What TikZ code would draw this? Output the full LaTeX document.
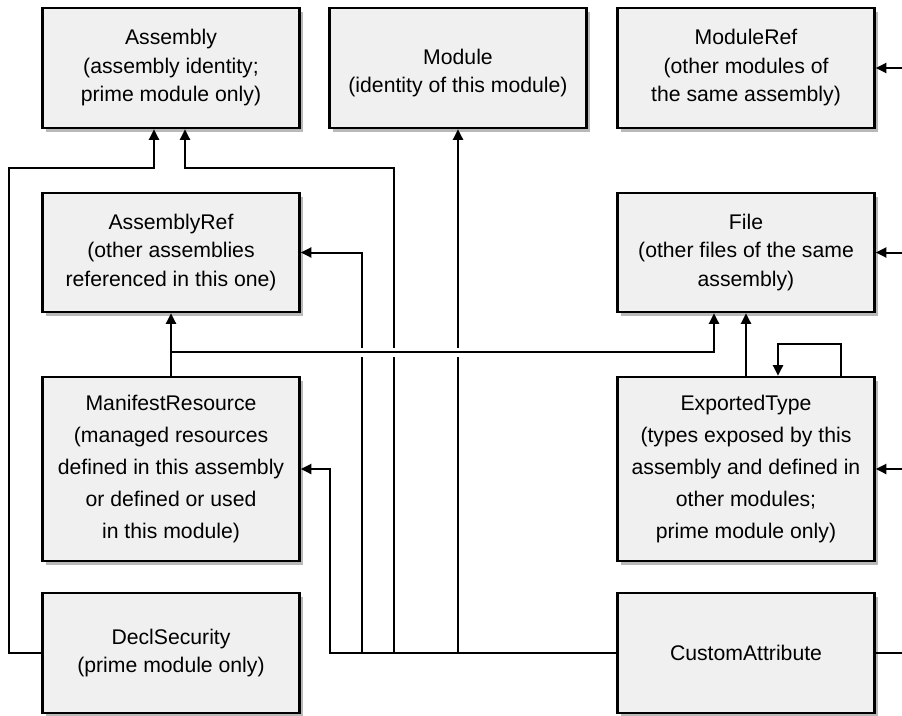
\documentclass[tikz,border=0pt]{standalone}
\usepackage{fontspec}
\setmainfont{Liberation Sans}
\usetikzlibrary{arrows.meta,shadows}

\begin{document}
\begin{tikzpicture}[x=1pt,y=-1pt,
  tbl/.style={draw=black, line width=2.6pt, fill=gray!12, minimum width=257pt,
    align=center, inner sep=0pt,
    font=\fontsize{21.2}{28.5}\selectfont,
    drop shadow={shadow xshift=3.5pt, shadow yshift=-3.5pt, fill=gray!55, opacity=1}},
  tall/.style={font=\fontsize{21.2}{32}\selectfont},
  tbltext/.style={align=center, inner sep=0pt, font=\fontsize{21.2}{28.5}\selectfont},
  link/.style={line width=2pt},
  arr/.style={link, -{Triangle[length=10.5pt,width=10pt]}},
]
\useasboundingbox (0,0) rectangle (902,715);

% metadata tables
\node[tbl, minimum height=120pt] (asm)  at (171,68)  {Assembly\\(assembly identity;\\prime module only)};
\node[tbl, minimum height=120pt] (mod)  at (458,68)  {};
\node[tbltext] (modtxt) at ([yshift=-5pt]mod.center) {Module\\(identity of this module)};
\node[tbl, minimum height=120pt] (mref) at (746,68)  {ModuleRef\\(other modules of\\the same assembly)};
\node[tbl, minimum height=119pt] (aref) at (171,252.5) {AssemblyRef\\(other assemblies\\referenced in this one)};
\node[tbl, minimum height=119pt] (file) at (746,252.5) {File\\(other files of the same\\assembly)};
\node[tbl, tall, minimum height=184pt] (mres) at (171,469) {ManifestResource\\(managed resources\\defined in this assembly\\or defined or used\\in this module)};
\node[tbl, tall, minimum height=184pt] (et)   at (746,469) {ExportedType\\(types exposed by this\\assembly and defined in\\other modules;\\prime module only)};
\node[tbl, minimum height=120pt] (decl) at (171,653) {DeclSecurity\\(prime module only)};
\node[tbl, minimum height=120pt] (ca)   at (746,653) {CustomAttribute};

\coordinate (edge) at (902,0);
\coordinate (bus)  at (171,352);

% DeclSecurity -> Assembly
\draw[arr] (decl.west) -| (9,168) -| ([xshift=-17pt]asm.south);
% CustomAttribute -> Assembly, AssemblyRef, ManifestResource, Module
\draw[arr] (ca.west) -| (394,168) -| ([xshift=14pt]asm.south);
\draw[arr] (ca.west) -| (362,252.5) -- (aref.east);
\draw[arr] (ca.west) -| (330,469) -- (mres.east);
\draw[arr] (ca.west) -| (mod.south);

% gap where the vertical lines pass under the resource bus
\draw[white, line width=9pt] (350,352) -- (470,352);

% ManifestResource -> AssemblyRef, File
\draw[arr] (mres.north) -- (aref.south);
\draw[arr] (bus) -| ([xshift=-32pt]file.south);
% ExportedType -> File, and to itself
\draw[arr] (et.north) -- (file.south);
\draw[arr] ([xshift=95pt]et.north) -- ++(0,-32) -| ([xshift=32pt]et.north);

% CustomAttribute links leaving on the right
\draw[link] (ca.east) -- (ca.east -| edge);
\draw[arr] (mref.east -| edge) -- (mref.east);
\draw[arr] (file.east -| edge) -- (file.east);
\draw[arr] (et.east -| edge) -- (et.east);
\end{tikzpicture}
\end{document}
